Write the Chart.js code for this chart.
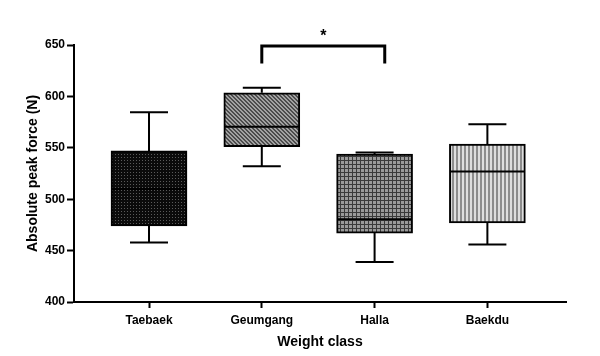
<!DOCTYPE html>
<html>
<head>
<meta charset="utf-8">
<script src="https://cdn.jsdelivr.net/npm/chart.js@4/dist/chart.umd.min.js"></script>
<style>
  html, body { margin: 0; padding: 0; background: #fff; }
  #wrap { width: 600px; height: 356px; }
</style>
</head>
<body>
<div id="wrap"><canvas id="c" width="600" height="356"></canvas></div>
<script>
// ---- data ----
const categories = ['Taebaek', 'Geumgang', 'Halla', 'Baekdu'];
const whiskerMin = [458, 532, 439, 456];
const q1Values   = [474, 551, 467, 477];
const medians    = [510, 570.5, 480.5, 527];
const q3Values   = [547, 603.5, 544, 553.5];
const whiskerMax = [584.5, 608.5, 545.5, 573];
const yTicks = [400, 450, 500, 550, 600, 650];
const significance = { from: 1, to: 2, label: '*' };

const FONT = '"Liberation Sans", Arial, Helvetica, sans-serif';

function makePattern(w, h, painter) {
  const c = document.createElement('canvas');
  c.width = w; c.height = h;
  const g = c.getContext('2d');
  painter(g, w, h);
  return g.createPattern(c, 'repeat');
}
const patterns = [
  // dark dotted
  makePattern(3, 3, (g) => { g.fillStyle = '#0b0b0b'; g.fillRect(0,0,3,3); g.fillStyle = '#5a5a5a'; g.fillRect(1,1,1,1); }),
  // diagonal hatch
  makePattern(4, 4, (g) => {
    g.fillStyle = '#a2a2a2'; g.fillRect(0,0,4,4);
    g.fillStyle = '#4c4c4c';
    for (let y = 0; y < 4; y++) for (let x = 0; x < 4; x++) { const d = ((x - y) % 4 + 4) % 4; if (d === 0 || d === 1) g.fillRect(x,y,1,1); }
  }),
  // grid
  makePattern(4, 4, (g) => { g.fillStyle = '#9a9a9a'; g.fillRect(0,0,4,4); g.fillStyle = '#3a3a3a'; g.fillRect(0,0,4,1); g.fillRect(0,0,1,4); }),
  // vertical stripes
  makePattern(4, 1, (g) => { g.fillStyle = '#dedede'; g.fillRect(0,0,4,1); g.fillStyle = '#8c8c8c'; g.fillRect(0,0,2,1); })
];

const boxData = categories.map((_, i) => ({ x: i, y: [q1Values[i], q3Values[i]] }));

const boxPlugin = {
  id: 'boxExtras',
  afterDatasetsDraw(chart) {
    const { ctx, scales: { x, y } } = chart;
    ctx.save();
    ctx.strokeStyle = '#000';
    ctx.lineWidth = 2;
    const boxHalf = 38, capHalf = 19;
    categories.forEach((_, i) => {
      const cx = x.getPixelForValue(i);
      const pMin = y.getPixelForValue(whiskerMin[i]);
      const pMax = y.getPixelForValue(whiskerMax[i]);
      const pQ1 = y.getPixelForValue(q1Values[i]);
      const pQ3 = y.getPixelForValue(q3Values[i]);
      const pMed = y.getPixelForValue(medians[i]);
      ctx.beginPath();
      ctx.moveTo(cx, pQ3); ctx.lineTo(cx, pMax);
      ctx.moveTo(cx - capHalf, pMax); ctx.lineTo(cx + capHalf, pMax);
      ctx.moveTo(cx, pQ1); ctx.lineTo(cx, pMin);
      ctx.moveTo(cx - capHalf, pMin); ctx.lineTo(cx + capHalf, pMin);
      ctx.moveTo(cx - boxHalf + 1, pMed); ctx.lineTo(cx + boxHalf - 1, pMed);
      ctx.stroke();
    });
    // significance bracket
    const xa = x.getPixelForValue(significance.from);
    const xb = x.getPixelForValue(significance.to + 0.09);
    const yt = y.getPixelForValue(649);
    const yb = y.getPixelForValue(632);
    ctx.lineWidth = 3;
    ctx.lineCap = 'butt';
    ctx.beginPath();
    ctx.moveTo(xa, yb); ctx.lineTo(xa, yt); ctx.lineTo(xb, yt); ctx.lineTo(xb, yb);
    ctx.stroke();
    ctx.fillStyle = '#000';
    ctx.font = 'bold 16px ' + FONT;
    ctx.textAlign = 'center';
    ctx.textBaseline = 'middle';
    ctx.fillText(significance.label, (xa + xb) / 2, yt - 9);
    ctx.restore();
  }
};

new Chart(document.getElementById('c'), {
  type: 'bar',
  data: {
    datasets: [{
      data: boxData,
      backgroundColor: patterns,
      borderColor: '#000',
      borderWidth: 2,
      borderSkipped: false,
      barThickness: 76
    }]
  },
  options: {
    responsive: false,
    animation: false,
    layout: { padding: { left: 0, right: 34, top: 45, bottom: 0 } },
    plugins: { legend: { display: false }, tooltip: { enabled: false } },
    scales: {
      x: {
        type: 'linear',
        offset: false,
        min: -0.665,
        max: 3.697,
        afterBuildTicks: (s) => { s.ticks = categories.map((_, i) => ({ value: i })); },
        afterFit: (s) => { s.height = 54; },
        ticks: {
          autoSkip: false,
          maxRotation: 0,
          padding: 5,
          color: '#000',
          font: { family: FONT, size: 12, weight: 'bold' },
          callback: (v) => categories[v]
        },
        grid: { offset: false, drawOnChartArea: false, drawTicks: true, tickLength: 6, tickColor: '#000', tickWidth: 2, color: '#000' },
        border: { display: true, color: '#000', width: 2 },
        title: { display: true, text: 'Weight class', color: '#000', font: { family: FONT, size: 14, weight: 'bold' }, padding: { top: 5, bottom: 5 } }
      },
      y: {
        min: 400,
        max: 650,
        afterBuildTicks: (s) => { s.ticks = yTicks.map(v => ({ value: v })); },
        afterFit: (s) => { s.width = 74; },
        ticks: {
          padding: 2,
          color: '#000',
          font: { family: FONT, size: 12, weight: 'bold' }
        },
        grid: { drawOnChartArea: false, drawTicks: true, tickLength: 7, tickColor: '#000', tickWidth: 2, color: '#000' },
        border: { display: true, color: '#000', width: 2 },
        title: { display: true, text: 'Absolute peak force (N)', color: '#000', font: { family: FONT, size: 14, weight: 'bold' }, padding: { top: 25, bottom: 25 } }
      }
    }
  },
  plugins: [boxPlugin]
});
</script>
</body>
</html>
